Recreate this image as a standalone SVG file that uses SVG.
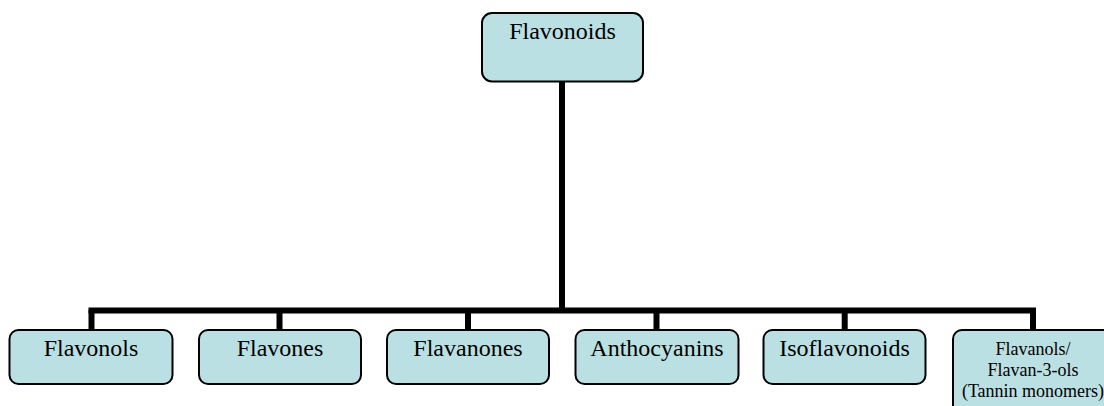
<svg xmlns="http://www.w3.org/2000/svg" width="1104" height="406" viewBox="0 0 1104 406">
<style>
.box{fill:#bbe0e3;stroke:#000;stroke-width:2}
.t{font-family:'Liberation Serif',Tinos,'DejaVu Serif','Noto Serif',serif;font-size:24px;fill:#000;text-anchor:middle}
.s{font-family:'Liberation Serif',Tinos,'DejaVu Serif','Noto Serif',serif;font-size:18px;fill:#000;text-anchor:middle}
.c{stroke:#000;stroke-width:6;fill:none}
</style>
<rect width="1104" height="406" fill="#fff"/>
<g id="connectors">
<line class="c" x1="562" y1="81" x2="562" y2="310.5"/>
<line class="c" x1="88.5" y1="310.5" x2="1036" y2="310.5"/>
<line class="c" x1="91.5" y1="310" x2="91.5" y2="330"/>
<line class="c" x1="279.5" y1="310" x2="279.5" y2="330"/>
<line class="c" x1="468" y1="310" x2="468" y2="330"/>
<line class="c" x1="656.5" y1="310" x2="656.5" y2="330"/>
<line class="c" x1="844.7" y1="310" x2="844.7" y2="330"/>
<line class="c" x1="1033" y1="310" x2="1033" y2="330"/>
</g>
<g id="flavonoids">
<rect class="box" x="482" y="13" width="161" height="68.5" rx="10"/>
<text class="t" x="562.5" y="38.5">Flavonoids</text>
</g>
<g id="flavonols">
<rect class="box" x="9.5" y="330" width="163" height="54" rx="9"/>
<text class="t" x="91" y="356">Flavonols</text>
</g>
<g id="flavones">
<rect class="box" x="199" y="330" width="162" height="54" rx="9"/>
<text class="t" x="280" y="356">Flavones</text>
</g>
<g id="flavanones">
<rect class="box" x="387" y="330" width="162" height="54" rx="9"/>
<text class="t" x="468" y="356">Flavanones</text>
</g>
<g id="anthocyanins">
<rect class="box" x="575.5" y="330" width="163" height="54" rx="9"/>
<text class="t" x="657" y="356">Anthocyanins</text>
</g>
<g id="isoflavonoids">
<rect class="box" x="763.5" y="330" width="162" height="54" rx="9"/>
<text class="t" x="844.5" y="356">Isoflavonoids</text>
</g>
<g id="flavanols">
<rect class="box" x="953" y="330" width="163" height="90" rx="9"/>
<text class="s" x="1033" y="355">Flavanols/</text>
<text class="s" x="1033" y="376">Flavan-3-ols</text>
<text class="s" x="1033" y="397">(Tannin monomers)</text>
</g>
</svg>
